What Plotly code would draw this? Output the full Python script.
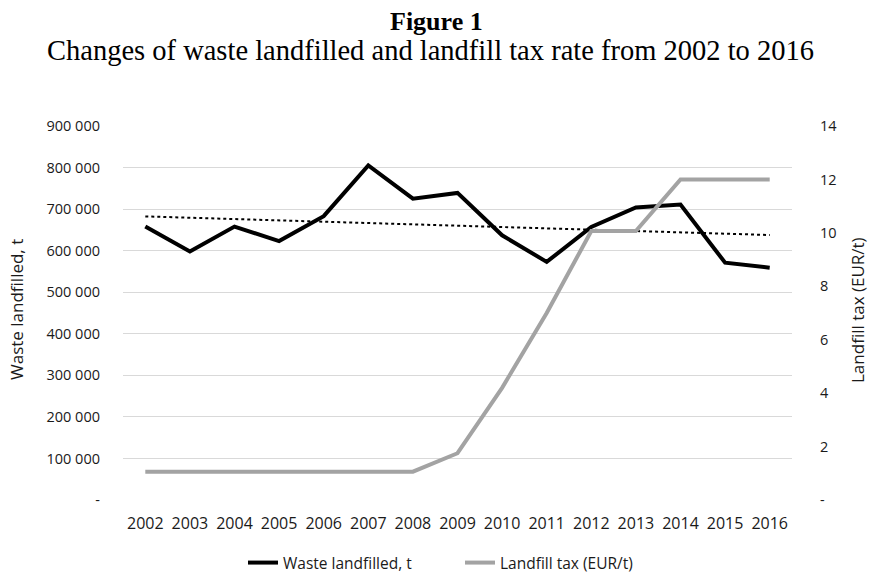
import numpy as np
import plotly.graph_objects as go

years = [str(y) for y in range(2002, 2017)]
waste = [658000, 598000, 658000, 623000, 683000, 805000, 725000, 739000,
         637000, 573000, 657000, 704000, 711000, 571000, 559000]
tax = [1.06, 1.06, 1.06, 1.06, 1.06, 1.06, 1.06, 1.75,
       4.2, 7.0, 10.07, 10.07, 12.0, 12.0, 12.0]
left_ticks = list(range(0, 900001, 100000))
left_text = ["-"] + [f"{v:,}".replace(",", " ") for v in left_ticks[1:]]
right_ticks = list(range(0, 15, 2))
right_text = ["-"] + [str(v) for v in right_ticks[1:]]

idx = np.arange(len(years))
coef = np.polyfit(idx, waste, 1)
trend = np.polyval(coef, idx)

FONT = "Open Sans"
tick_font = dict(family=FONT, size=14.5, color="#1a1a1a")

L, R, T, B = 123, 80, 126, 73
Wf, Hf = 872, 573
W = Wf - L - R
H = Hf - T - B

def xp(px):
    return (px - L) / W

def yp(py):
    return (Hf - B - py) / H

fig = go.Figure()
fig.add_trace(go.Scatter(x=years, y=trend, mode="lines", showlegend=False,
                         line=dict(color="black", width=2, dash="dot"), hoverinfo="skip"))
fig.add_trace(go.Scatter(x=years, y=waste, mode="lines", name="Waste landfilled, t",
                         line=dict(color="black", width=4)))
fig.add_trace(go.Scatter(x=years, y=tax, mode="lines", name="Landfill tax (EUR/t)",
                         yaxis="y2", line=dict(color="#a3a3a3", width=4)))

fig.update_layout(
    width=Wf, height=Hf,
    margin=dict(l=L, r=R, t=T, b=B, autoexpand=False),
    paper_bgcolor="white", plot_bgcolor="white",
    xaxis=dict(type="category", range=[-0.5, len(years) - 0.5], showgrid=False,
               showline=False, ticks="", tickfont=dict(family=FONT, size=16, color="#1a1a1a"),
               zeroline=False, automargin=False, ticklabelstandoff=12),
    yaxis=dict(range=[0, 900000], tickvals=left_ticks, ticktext=left_text,
               showgrid=True, gridcolor="#d9d9d9", gridwidth=1, zeroline=False,
               showline=False, ticks="", tickfont=tick_font, ticklabelstandoff=22,
               automargin=False),
    yaxis2=dict(range=[0, 14], tickvals=right_ticks, ticktext=right_text,
                overlaying="y", side="right", showgrid=False, zeroline=False,
                showline=False, ticks="", tickfont=tick_font, ticklabelstandoff=27,
                automargin=False),
    legend=dict(orientation="h", x=xp(243), xanchor="left", y=yp(563), yanchor="middle",
                entrywidth=172, font=dict(family=FONT, size=15.5, color="#1a1a1a"),
                bgcolor="rgba(0,0,0,0)"),
)
fig.add_annotation(text="<b>Figure 1</b>", x=xp(436), xref="paper", y=yp(21), yref="paper",
                   showarrow=False, xanchor="center", yanchor="middle",
                   font=dict(family="Liberation Serif", size=26, color="black"))
fig.add_annotation(text="Changes of waste landfilled and landfill tax rate from 2002 to 2016",
                   x=xp(430), xref="paper", y=yp(50), yref="paper",
                   showarrow=False, xanchor="center", yanchor="middle",
                   font=dict(family="Liberation Serif", size=28.5, color="black"))
fig.add_annotation(text="Waste landfilled, t", x=xp(16), xref="paper",
                   y=yp(310), yref="paper", textangle=-90, showarrow=False,
                   xanchor="center", yanchor="middle",
                   font=dict(family=FONT, size=17, color="#1a1a1a"))
fig.add_annotation(text="Landfill tax (EUR/t)", x=xp(857), xref="paper",
                   y=yp(310), yref="paper", textangle=-90, showarrow=False,
                   xanchor="center", yanchor="middle",
                   font=dict(family=FONT, size=17, color="#1a1a1a"))

fig.write_html("out.html")
